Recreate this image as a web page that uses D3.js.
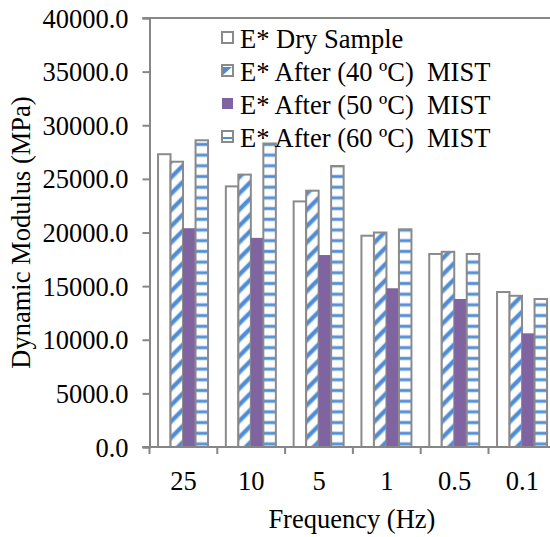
<!DOCTYPE html>
<html>
<head>
<meta charset="utf-8">
<script src="https://cdn.jsdelivr.net/npm/d3@7"></script>
<style>
  html, body { margin: 0; padding: 0; background: #fff; }
  svg { display: block; }
</style>
</head>
<body>
<svg id="chart" width="550" height="537"></svg>
<script>
// ---------- data ----------
const categories = ["25", "10", "5", "1", "0.5", "0.1"];
const seriesNames = ["E* Dry Sample", "E* After (40 ºC)  MIST", "E* After (50 ºC)  MIST", "E* After (60 ºC)  MIST"];
const dry    = [27300, 24300, 22900, 19700, 18000, 14450];
const mist40 = [26600, 25400, 23900, 20000, 18200, 14100];
const mist50 = [20400, 19500, 17900, 14800, 13800, 10600];
const mist60 = [28600, 28300, 26200, 20300, 18000, 13800];
const yTicks = [0, 5000, 10000, 15000, 20000, 25000, 30000, 35000, 40000];
const xTitle = "Frequency (Hz)";
const yTitle = "Dynamic Modulus (MPa)";

(function () {
const seriesValues = [dry, mist40, mist50, mist60];
const keys = ["s0", "s1", "s2", "s3"];

// ---------- layout ----------
const svg = d3.select("#chart");
const plotL = 149.5, plotT = 18, plotB = 447;
const step = 67.8;
const plotR = plotL + step * categories.length;
const axisColor = "#868686";
const barStroke = "#8a8a8a";
const blue = "#4f8bd3";
const FONT = "Liberation Serif";
const FS = 26.5;

const y = d3.scaleLinear().domain([0, 40000]).range([plotB, plotT]);
const x0 = d3.scaleBand().domain(categories).range([plotL, plotR]).paddingInner(0).paddingOuter(0);
const bw = x0.bandwidth();
const x1 = d3.scaleBand().domain(keys).range([bw * 0.126, bw * 0.126 + 50]);

// ---------- patterns ----------
const defs = svg.append("defs");

const pDots = defs.append("pattern")
  .attr("id", "pDots").attr("patternUnits", "userSpaceOnUse")
  .attr("x", plotL).attr("y", 0)
  .attr("width", step).attr("height", 21.5);
pDots.append("rect").attr("width", step).attr("height", 21.5).attr("fill", "#fff");
pDots.append("circle").attr("cx", x1("s0") + x1.bandwidth() * 0.62).attr("cy", 12).attr("r", 1.4).attr("fill", "#6b9cdb");

const pDiag = defs.append("pattern")
  .attr("id", "pDiag").attr("patternUnits", "userSpaceOnUse")
  .attr("width", 11.5).attr("height", 11.5)
  .attr("patternTransform", "rotate(45)");
pDiag.append("rect").attr("width", 11.5).attr("height", 11.5).attr("fill", "#fff");
pDiag.append("rect").attr("x", 0).attr("width", 5.5).attr("height", 11.5).attr("fill", "#b9d0ee");
pDiag.append("rect").attr("x", 1).attr("width", 3.5).attr("height", 11.5).attr("fill", blue);

const pHor = defs.append("pattern")
  .attr("id", "pHor").attr("patternUnits", "userSpaceOnUse")
  .attr("x", 0).attr("y", 0)
  .attr("width", 10).attr("height", 10.7);
pHor.append("rect").attr("width", 10).attr("height", 10.7).attr("fill", "#fff");
pHor.append("rect").attr("y", 3.2).attr("width", 10).attr("height", 4.2).attr("fill", "#c3d7f0");
pHor.append("rect").attr("y", 4.1).attr("width", 10).attr("height", 2.4).attr("fill", blue);

const fills = ["url(#pDots)", "url(#pDiag)", "#8064a2", "url(#pHor)"];
const strokes = [barStroke, barStroke, "none", barStroke];

// ---------- bars ----------
const rows = categories.map((c, i) => ({ cat: c, vals: keys.map((k, j) => ({ key: k, idx: j, v: seriesValues[j][i] })) }));

const g = svg.append("g").selectAll("g").data(rows).join("g")
  .attr("transform", d => `translate(${x0(d.cat)},0)`);

g.selectAll("rect").data(d => d.vals).join("rect")
  .attr("x", d => x1(d.key))
  .attr("y", d => y(d.v))
  .attr("width", x1.bandwidth())
  .attr("height", d => y(0) - y(d.v))
  .attr("fill", d => fills[d.idx])
  .attr("stroke", d => strokes[d.idx])
  .attr("stroke-width", 2);

// ---------- axes ----------
svg.append("line")
  .attr("x1", plotL - 7).attr("x2", 550)
  .attr("y1", y(40000)).attr("y2", y(40000))
  .attr("stroke", axisColor).attr("stroke-width", 2);

const yAxis = svg.append("g").attr("transform", `translate(${plotL},0)`)
  .call(d3.axisLeft(y).tickValues(yTicks).tickSize(7).tickPadding(14).tickFormat(d3.format(".1f")));
yAxis.attr("font-family", FONT).attr("font-size", FS);
yAxis.select(".domain").attr("stroke", axisColor).attr("stroke-width", 2);
yAxis.selectAll(".tick line").attr("stroke", axisColor).attr("stroke-width", 2);
yAxis.selectAll(".tick text").attr("fill", "#000").attr("dy", "0.34em")
  .attr("font-family", FONT).attr("font-size", FS);

svg.append("line")
  .attr("x1", plotL - 7).attr("x2", plotR)
  .attr("y1", plotB).attr("y2", plotB)
  .attr("stroke", axisColor).attr("stroke-width", 2);

const xb = svg.append("g");
xb.selectAll("line").data(categories).join("line")
  .attr("x1", d => x0(d)).attr("x2", d => x0(d))
  .attr("y1", plotB).attr("y2", plotB + 7)
  .attr("stroke", axisColor).attr("stroke-width", 2);
xb.selectAll("text").data(categories).join("text")
  .attr("x", d => x0(d) + bw / 2)
  .attr("y", 490)
  .attr("text-anchor", "middle")
  .attr("font-family", FONT).attr("font-size", FS)
  .text(d => d);

svg.append("text")
  .attr("x", plotL + (plotR - plotL) / 2 - 1)
  .attr("y", 528)
  .attr("text-anchor", "middle")
  .attr("font-family", FONT).attr("font-size", FS)
  .text(xTitle);

svg.append("text")
  .attr("transform", `translate(30, ${(plotT + plotB) / 2}) rotate(-90)`)
  .attr("text-anchor", "middle")
  .attr("font-family", FONT).attr("font-size", FS)
  .text(yTitle);

// ---------- legend ----------
const legend = svg.append("g").attr("transform", "translate(221, 31)");
const li = legend.selectAll("g").data(seriesNames).join("g")
  .attr("transform", (d, i) => `translate(0, ${i * 33})`);
li.append("rect")
  .attr("x", 1).attr("y", 1).attr("width", 11).attr("height", 11)
  .attr("fill", (d, i) => (i === 2 ? fills[2] : "#fff"))
  .attr("stroke", (d, i) => strokes[i])
  .attr("stroke-width", 2);
li.filter((d, i) => i === 1).append("path")
  .attr("d", "M2,11 L2,3 L11,3 Z").attr("fill", blue);
li.filter((d, i) => i === 1).append("rect")
  .attr("x", 1).attr("y", 1).attr("width", 11).attr("height", 11)
  .attr("fill", "none").attr("stroke", barStroke).attr("stroke-width", 2);
li.filter((d, i) => i === 3).append("rect")
  .attr("x", 2).attr("y", 7).attr("width", 9).attr("height", 2).attr("fill", blue);
li.append("text")
  .attr("x", 19).attr("y", 7)
  .attr("dy", "0.36em")
  .attr("font-family", FONT).attr("font-size", FS)
  .style("white-space", "pre")
  .text(d => d);
})();
</script>
</body>
</html>
